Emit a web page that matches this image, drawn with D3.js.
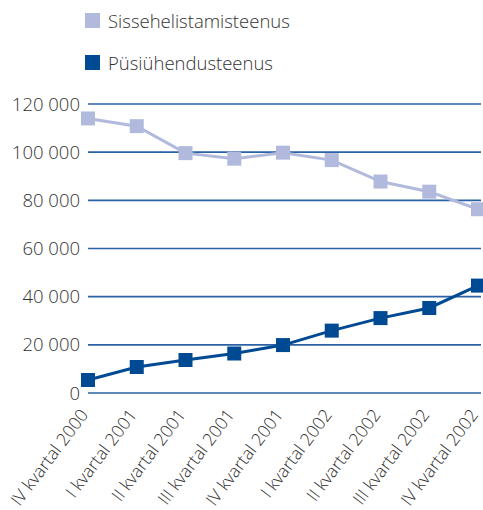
<!DOCTYPE html>
<html><head><meta charset="utf-8">
<script src="https://cdn.jsdelivr.net/npm/d3@7"></script>
<style>body{margin:0;background:#fff}svg{display:block}</style>
</head><body>
<svg id="c" width="483" height="510"></svg>
<script>
const categories = ["IV kvartal 2000","I kvartal 2001","II kvartal 2001","III kvartal 2001","IV kvartal 2001","I kvartal 2002","II kvartal 2002","III kvartal 2002","IV kvartal 2002"];
const sissehelistamine = [114000,110800,99600,97300,99800,96700,87800,83600,76300];
const pysiyhendus = [5400,10800,13700,16400,19900,25900,31100,35300,44600];
const yTicks = [0,20000,40000,60000,80000,100000,120000];
const seriesNames = ["Sissehelistamisteenus","Püsiühendusteenus"];
const seriesColors = ["#b1badc","#004a94"];

const svg = d3.select("#c");
const font = "'Open Sans', sans-serif";
const x = d3.scalePoint().domain(categories).range([88,478]);
const y = d3.scaleLinear().domain([0,120000]).range([393,104]);
const fmt = v => d3.format(",")(v).replace(/,/g," ");

svg.append("g").selectAll("line").data(yTicks).join("line")
  .attr("x1",88).attr("x2",481).attr("y1",d=>y(d)).attr("y2",d=>y(d))
  .attr("stroke","#2a62a4").attr("stroke-width",1.6);
svg.append("g").selectAll("text").data(yTicks).join("text")
  .attr("x",80).attr("y",d=>y(d)+6.5).attr("text-anchor","end")
  .attr("font-family",font).attr("font-weight",300).attr("font-size",18.5).attr("fill","#333")
  .text(d=>fmt(d));
svg.append("g").selectAll("text").data(categories).join("text")
  .attr("transform",d=>`translate(${x(d)+1},${415}) rotate(-53)`)
  .attr("text-anchor","end")
  .attr("font-family",font).attr("font-weight",300).attr("font-size",17.5).attr("fill","#333")
  .text(d=>d);

const line = d3.line().x((d,i)=>x(categories[i])).y(d=>y(d));
[sissehelistamine,pysiyhendus].forEach((s,k)=>{
  svg.append("path").datum(s).attr("d",line).attr("fill","none")
    .attr("stroke",seriesColors[k]).attr("stroke-width",3);
  svg.append("g").selectAll("rect").data(s).join("rect")
    .attr("x",(d,i)=>x(categories[i])-7).attr("y",d=>y(d)-7)
    .attr("width",14).attr("height",14).attr("fill",seriesColors[k]);
});

const lg = svg.append("g");
seriesNames.forEach((n,k)=>{
  lg.append("rect").attr("x",85).attr("y",13+k*42).attr("width",15).attr("height",15).attr("fill",seriesColors[k]);
  lg.append("text").attr("x",108).attr("y",28+k*42)
    .attr("font-family",font).attr("font-weight",300).attr("font-size",18.5).attr("fill","#333").text(n);
});
</script>
</body></html>
